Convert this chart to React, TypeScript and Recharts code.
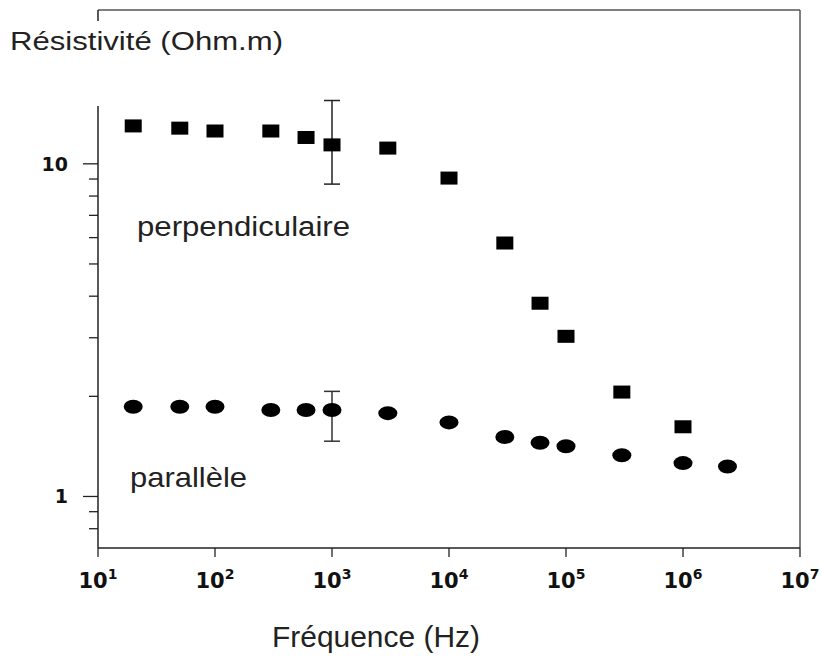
import React from 'react';
import { ScatterChart, Scatter, XAxis, YAxis, ErrorBar, ReferenceLine } from 'recharts';

// ---- data ----
const perpFrequencies = [20, 50, 100, 300, 600, 1000, 3000, 1e4, 3e4, 6e4, 1e5, 3e5, 1e6];
const perpResistivity = [13.0, 12.8, 12.55, 12.55, 12.0, 11.4, 11.15, 9.06, 5.78, 3.81, 3.03, 2.06, 1.62];

const paraFrequencies = [20, 50, 100, 300, 600, 1000, 3000, 1e4, 3e4, 6e4, 1e5, 3e5, 1e6, 2.4e6];
const paraResistivity = [1.86, 1.86, 1.86, 1.82, 1.82, 1.82, 1.78, 1.67, 1.51, 1.45, 1.415, 1.33, 1.26, 1.23];

// error bars (at 1 kHz): [low bound, high bound]
const errorFrequency = 1000;
const perpErrorRange = [8.69, 15.5];
const paraErrorRange = [1.466, 2.07];

const xTicks = [10, 100, 1e3, 1e4, 1e5, 1e6, 1e7];
const yTicks = [0.8, 0.9, 1, 2, 3, 4, 5, 6, 7, 8, 9, 10];
const yMajorTicks = [1, 10];
const xDomain = [10, 1e7];
const yDomain = [0.7, 29];

const titleY = 'Résistivité (Ohm.m)';
const titleX = 'Fréquence (Hz)';
const labelPerp = 'perpendiculaire';
const labelPara = 'parallèle';

const buildSeries = (freqs: number[], vals: number[], errRange: number[]) =>
  freqs.map((f, i) => ({
    x: f,
    y: vals[i],
    err: f === errorFrequency ? [vals[i] - errRange[0], errRange[1] - vals[i]] : undefined,
  }));

const perpData = buildSeries(perpFrequencies, perpResistivity, perpErrorRange);
const paraData = buildSeries(paraFrequencies, paraResistivity, paraErrorRange);

const SquareShape = (props: any) => {
  const { cx, cy } = props;
  if (cx == null || cy == null) return null;
  return <rect x={cx - 8.5} y={cy - 6.5} width={17} height={13} fill="#000" />;
};

const EllipseShape = (props: any) => {
  const { cx, cy } = props;
  if (cx == null || cy == null) return null;
  return <ellipse cx={cx} cy={cy} rx={9.5} ry={7} fill="#000" />;
};

const XTick = (props: any) => {
  const { x, y, payload } = props;
  const exp = Math.round(Math.log10(payload.value));
  return (
    <g>
      <line x1={x} y1={y} x2={x} y2={y + 9} stroke="#222" strokeWidth={1.3} />
      <text
        x={x}
        y={y + 40}
        textAnchor="middle"
        fontFamily="DejaVu Sans"
        fontWeight="bold"
        fontSize={21}
        fill="#111"
      >
        10
        <tspan dy={-9} fontSize={14}>
          {exp}
        </tspan>
      </text>
    </g>
  );
};

const YTick = (props: any) => {
  const { x, y, payload } = props;
  const v = payload.value;
  const major = yMajorTicks.includes(v);
  return (
    <g>
      <line x1={x - (major ? 15 : 9)} y1={y} x2={x} y2={y} stroke="#222" strokeWidth={1.3} />
      {major && (
        <text
          x={x - 30}
          y={y + 7}
          textAnchor="end"
          fontFamily="DejaVu Sans"
          fontWeight="bold"
          fontSize={19}
          fill="#111"
        >
          {v}
        </text>
      )}
    </g>
  );
};

export default function App() {
  const W = 821;
  const H = 657;
  const font = "'Liberation Sans', Arial, sans-serif";
  return (
    <div style={{ position: 'absolute', left: 0, top: 0, width: W, height: H, background: '#fff' }}>
      <ScatterChart width={W} height={H} margin={{ top: 10, right: 21, left: 0, bottom: 69 }}>
        <XAxis
          dataKey="x"
          type="number"
          scale="log"
          domain={xDomain}
          allowDataOverflow
          ticks={xTicks}
          interval={0}
          tick={<XTick />}
          tickLine={false}
          tickSize={0}
          tickMargin={0}
          height={40}
          axisLine={{ stroke: '#222', strokeWidth: 1.5 }}
        />
        <YAxis
          dataKey="y"
          type="number"
          scale="log"
          domain={yDomain}
          allowDataOverflow
          ticks={yTicks}
          interval={0}
          tick={<YTick />}
          tickLine={false}
          tickSize={0}
          tickMargin={0}
          width={98}
          axisLine={{ stroke: '#222', strokeWidth: 1.5 }}
        />
        <ReferenceLine y={yDomain[1]} stroke="#555" strokeWidth={1.5} />
        <ReferenceLine x={xDomain[1]} stroke="#555" strokeWidth={1.5} />
        <Scatter data={perpData} shape={<SquareShape />} isAnimationActive={false}>
          <ErrorBar dataKey="err" direction="y" width={8} stroke="#222" strokeWidth={1.5} />
        </Scatter>
        <Scatter data={paraData} shape={<EllipseShape />} isAnimationActive={false}>
          <ErrorBar dataKey="err" direction="y" width={8} stroke="#333" strokeWidth={1.5} />
        </Scatter>
      </ScatterChart>
      <svg
        width={W}
        height={H}
        style={{ position: 'absolute', left: 0, top: 0, pointerEvents: 'none' }}
      >
        <rect x={0} y={21} width={290} height={85} fill="#fff" />
        <text x={10} y={50} fontFamily={font} fontSize={26} fill="#222" textLength={273} lengthAdjust="spacingAndGlyphs">
          {titleY}
        </text>
        <text x={137} y={236} fontFamily={font} fontSize={27} fill="#222" textLength={213} lengthAdjust="spacingAndGlyphs">
          {labelPerp}
        </text>
        <text x={130} y={487} fontFamily={font} fontSize={28} fill="#222" textLength={117} lengthAdjust="spacingAndGlyphs">
          {labelPara}
        </text>
        <text x={272} y={647} fontFamily={font} fontSize={29} fill="#222" textLength={208} lengthAdjust="spacingAndGlyphs">
          {titleX}
        </text>
      </svg>
    </div>
  );
}
